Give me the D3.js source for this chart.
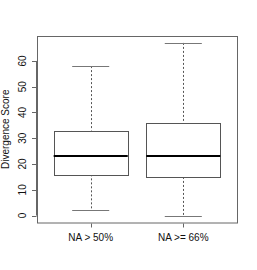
<!DOCTYPE html>
<html>
<head>
<meta charset="utf-8">
<script src="https://cdn.jsdelivr.net/npm/d3@7"></script>
<style>
  body { margin: 0; background: #fff; }
  text { font-family: "Liberation Sans", Arial, sans-serif; font-size: 10px; fill: #111; }
</style>
</head>
<body>
<svg id="chart" width="257" height="270"></svg>
<script>
var groups = ["NA > 50%", "NA >= 66%"],
    lowWhisker = [2, 0],
    q1 = [16, 15],
    median = [23, 23],
    q3 = [33, 36],
    highWhisker = [58, 67],
    yTicks = [0, 10, 20, 30, 40, 50, 60];

var svg = d3.select("#chart"),
    plotLeft = 37, plotRight = 237, plotTop = 36, plotBottom = 222.5;

// R style: xlim 0.5..2.5 and ylim 0..67, each widened by 4%
var x = d3.scaleLinear().domain([0.42, 2.58]).range([plotLeft, plotRight]),
    y = d3.scaleLinear().domain([-2.68, 69.68]).range([plotBottom, plotTop]);

// frame
svg.append("rect")
    .attr("x", plotLeft + 0.5).attr("y", plotTop + 0.5)
    .attr("width", plotRight - plotLeft).attr("height", plotBottom - plotTop)
    .attr("fill", "none").attr("stroke", "#666").attr("stroke-width", 1);

// y axis
var yAxis = svg.append("g").attr("transform", "translate(" + (plotLeft - 1) + ",0)");
yAxis.append("line")
    .attr("x1", 0.5).attr("x2", 0.5)
    .attr("y1", y(0)).attr("y2", y(60))
    .attr("stroke", "#666");
yTicks.forEach(function (t) {
  yAxis.append("line")
      .attr("x1", -4).attr("x2", 0.5)
      .attr("y1", Math.round(y(t)) + 0.5).attr("y2", Math.round(y(t)) + 0.5)
      .attr("stroke", "#666");
  yAxis.append("text")
      .attr("transform", "translate(-10," + y(t) + ") rotate(-90)")
      .attr("text-anchor", "middle")
      .text(t);
});

svg.append("text")
    .attr("transform", "translate(9," + (plotTop + plotBottom) / 2 + ") rotate(-90)")
    .attr("text-anchor", "middle")
    .text("Divergence Score");

// x axis ticks and labels
groups.forEach(function (g, i) {
  var cx = Math.round(x(i + 1)) + 0.5;
  svg.append("line")
      .attr("x1", cx).attr("x2", cx)
      .attr("y1", plotBottom + 1).attr("y2", plotBottom + 5)
      .attr("stroke", "#666");
  svg.append("text")
      .attr("x", x(i + 1)).attr("y", 241)
      .attr("text-anchor", "middle")
      .text(g);
});

// boxes
var boxes = svg.selectAll("g.box")
    .data(groups)
    .enter().append("g")
    .attr("class", "box");

boxes.each(function (g, i) {
  var b = d3.select(this),
      cx = Math.round(x(i + 1)) + 0.5,
      bx0 = x(i + 1 - 0.4), bx1 = x(i + 1 + 0.4),
      cx0 = x(i + 1 - 0.2), cx1 = x(i + 1 + 0.2);

  // dashed whiskers
  b.append("line")
      .attr("x1", cx).attr("x2", cx)
      .attr("y1", y(highWhisker[i])).attr("y2", y(q3[i]))
      .attr("stroke", "#555").attr("stroke-dasharray", "2,2");
  b.append("line")
      .attr("x1", cx).attr("x2", cx)
      .attr("y1", y(q1[i])).attr("y2", y(lowWhisker[i]))
      .attr("stroke", "#555").attr("stroke-dasharray", "2,2");

  // caps
  [highWhisker[i], lowWhisker[i]].forEach(function (v) {
    b.append("line")
        .attr("x1", cx0).attr("x2", cx1)
        .attr("y1", Math.round(y(v)) + 0.5).attr("y2", Math.round(y(v)) + 0.5)
        .attr("stroke", "#777");
  });

  b.append("rect")
      .attr("x", Math.round(bx0) + 0.5).attr("y", Math.round(y(q3[i])) + 0.5)
      .attr("width", Math.round(bx1 - bx0))
      .attr("height", Math.round(y(q1[i]) - y(q3[i])))
      .attr("fill", "#fff").attr("stroke", "#555");

  b.append("line")
      .attr("x1", bx0).attr("x2", bx1)
      .attr("y1", Math.round(y(median[i]))).attr("y2", Math.round(y(median[i])))
      .attr("stroke", "#000").attr("stroke-width", 2);
});
</script>
</body>
</html>
